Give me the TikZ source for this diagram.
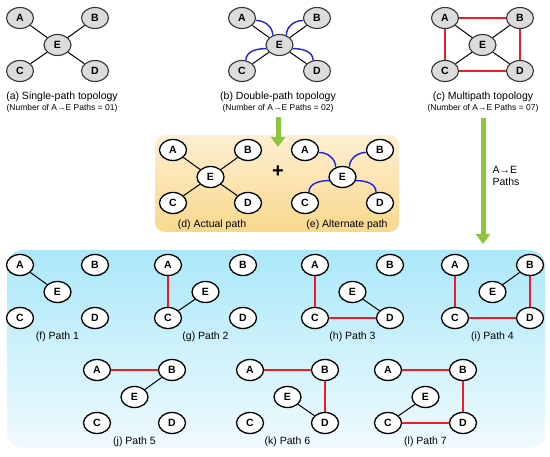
\documentclass[tikz,border=0pt]{standalone}
\usepackage{fontspec}
\setmainfont{Liberation Sans}
\usetikzlibrary{shapes.geometric,arrows.meta}

\definecolor{nodegray}{HTML}{DCDCDC}
\definecolor{pathred}{HTML}{EE1C25}
\definecolor{altblue}{HTML}{1F1FE0}
\definecolor{arrowgreen}{HTML}{8CC63F}
\definecolor{boxorange}{HTML}{F9D88C}
\definecolor{boxcream}{HTML}{FDEFD2}
\definecolor{boxcyan}{HTML}{ABE8F9}
\definecolor{boxwhite}{HTML}{F0FAFE}

\tikzset{
	topnode/.style={ellipse, draw=black!80, fill=nodegray, line width=1.1pt, minimum width=27pt, minimum height=21pt, inner sep=0pt, font=\bfseries\fontsize{10.5}{10.5}\selectfont},
	pathnode/.style={topnode, fill=white, draw=black, line width=1.3pt},
	link/.style={line width=1pt},
	redlink/.style={line width=1.4pt, pathred},
	altlink/.style={line width=1.4pt, altblue},
	caption/.style={font=\fontsize{10.5}{12}\selectfont},
	subcaption/.style={font=\fontsize{8.5}{9}\selectfont},
	bigarrow/.style={line width=5pt, arrowgreen, -{Triangle[width=14pt,length=10pt]}},
}

\begin{document}
\begin{tikzpicture}[x=1pt, y=-1pt]
		\useasboundingbox (0,0) rectangle (550,457);

		% five nodes of one topology: name prefix, left x, top y, style
		\def\topo#1#2#3#4{
			\node[#4] (#1A) at (#2,#3) {A};
			\node[#4] (#1B) at (#2+75,#3) {B};
			\node[#4] (#1E) at (#2+37.5,#3+27) {E};
			\node[#4] (#1C) at (#2,#3+53) {C};
			\node[#4] (#1D) at (#2+75,#3+53) {D};
		}

		\shade[top color=boxcream, bottom color=boxorange, rounded corners=10pt] (155,135) rectangle (399,232);
		\shade[top color=boxcyan, bottom color=boxwhite, rounded corners=16pt] (7,250) rectangle (545,448);

		% top row, then actual + alternate
		\topo{a}{20}{18}{topnode}
		\topo{b}{242}{18}{topnode}
		\topo{c}{445}{18}{topnode}
		\topo{d}{173}{150}{pathnode}
		\topo{e}{305}{150}{pathnode}
		\foreach \t in {a,b,c,d}
			\foreach \n in {A,B,C,D}
				\draw[link] (\t\n) -- (\t E);
		\draw[redlink] (cA) -- (cB) -- (cD) -- (cC) -- (cA);
		\foreach \t in {b,e} {
			\draw[altlink] (\t A.-10) to[out=0,in=90] (\t E.125);
			\draw[altlink] (\t B.190) to[out=180,in=90] (\t E.55);
			\draw[altlink] (\t C.70) to[out=90,in=180] (\t E.195);
			\draw[altlink] (\t D.110) to[out=90,in=0] (\t E.-15);
		}

		\node[caption] (capa) at (62,97) {(a) Single-path topology};
		\node[subcaption] (suba) at (62,108) {(Number of A→E Paths = 01)};
		\node[caption] (capb) at (278,97) {(b) Double-path topology};
		\node[subcaption] (subb) at (278,108) {(Number of A→E Paths = 02)};
		\node[caption] (capc) at (483,97) {(c) Multipath topology};
		\node[subcaption] (subc) at (483,108) {(Number of A→E Paths = 07)};

		% green arrows
		\coordinate (btail) at (278,117);
		\coordinate (bhead) at (278,147);
		\coordinate (ctail) at (483,118);
		\coordinate (chead) at (483,244);
		\draw[bigarrow] (btail) -- (bhead);
		\draw[bigarrow] (ctail) -- (chead);
		\node[caption, anchor=west, align=left] (arrowlab) at (489,176) {A→E\\Paths};

		\node[font=\bfseries\fontsize{20}{20}\selectfont] (plus) at (278,172) {+};
		\node[caption] (capd) at (212,225) {(d) Actual path};
		\node[caption] (cape) at (347,225) {(e) Alternate path};

		% the seven paths
		\foreach \p/\x/\y/\k in {f/20/265/1, g/168/265/2, h/315/265/3, i/455/265/4, j/97/370/5, k/250/370/6, l/388/370/7} {
			\topo{\p}{\x}{\y}{pathnode}
			\node[caption] (cap\p) at (\x+37.5,\y+72) {(\p) Path \k};
		}
		\foreach \u/\v in {fA/fE, gC/gE, hD/hE, iB/iE, jB/jE, kD/kE, lC/lE}
			\draw[link] (\u) -- (\v);
		\foreach \u/\v in {gA/gC, hA/hC, hC/hD, iA/iC, iC/iD, iD/iB, jA/jB, kA/kB, kB/kD, lA/lB, lB/lD, lD/lC}
			\draw[redlink] (\u) -- (\v);
	\end{tikzpicture}
\end{document}
